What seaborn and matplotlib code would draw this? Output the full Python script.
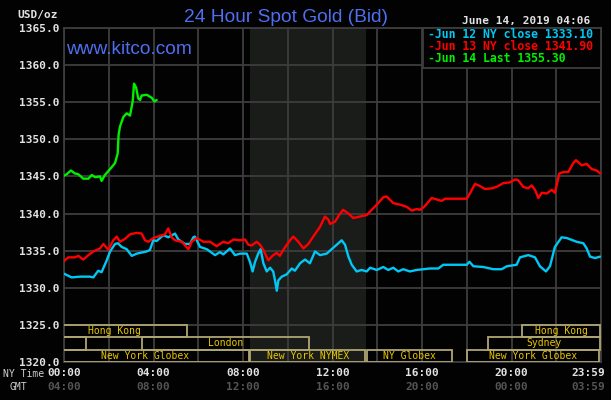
import matplotlib
matplotlib.use("Agg")
import matplotlib.pyplot as plt
import matplotlib.transforms as mtransforms
from matplotlib.patches import Rectangle
import pandas as pd
import seaborn as sns

# ---------------- data ----------------
jun12_hours = [0.00, 0.34, 0.72, 1.16, 1.31, 1.53, 1.68, 1.91, 2.06, 2.28, 2.41, 2.58, 2.80, 3.03, 3.25,
               3.70, 3.84, 3.99, 4.14, 4.44, 4.66, 4.96, 5.11, 5.41, 5.63, 5.78, 5.85, 6.08, 6.38, 6.75,
               6.97, 7.12, 7.42, 7.64, 7.87, 8.17, 8.31, 8.43, 8.54, 8.68, 8.79, 8.91, 9.06, 9.21, 9.35,
               9.43, 9.51, 9.58, 9.73, 9.95, 10.18, 10.32, 10.55, 10.77, 10.99, 11.22, 11.44, 11.74,
               11.96, 12.19, 12.41, 12.56, 12.71, 12.86, 13.08, 13.30, 13.53, 13.68, 13.98, 14.27,
               14.49, 14.72, 14.94, 15.16, 15.46, 15.76, 16.36, 16.73, 16.95, 18.00, 18.12, 18.30,
               18.74, 19.19, 19.56, 19.79, 20.23, 20.38, 20.75, 21.05, 21.27, 21.54, 21.72, 21.94,
               22.24, 22.47, 22.91, 23.21, 23.36, 23.51, 23.73, 23.96]
jun12_price = [1331.9, 1331.4, 1331.5, 1331.5, 1331.4, 1332.3, 1332.1, 1333.7, 1334.9, 1335.9, 1336.0,
               1335.5, 1335.2, 1334.3, 1334.6, 1334.9, 1335.1, 1336.4, 1336.3, 1337.1, 1336.8, 1337.3,
               1336.5, 1335.9, 1335.9, 1336.8, 1336.9, 1335.5, 1335.2, 1334.4, 1334.8, 1334.5, 1335.3,
               1334.4, 1334.6, 1334.6, 1333.5, 1332.2, 1333.5, 1334.6, 1335.2, 1333.3, 1332.2, 1332.7,
               1332.2, 1331.0, 1329.6, 1331.0, 1331.5, 1331.8, 1332.6, 1332.3, 1333.3, 1333.8, 1333.3,
               1334.9, 1334.4, 1334.6, 1335.2, 1335.8, 1336.4, 1335.8, 1334.2, 1333.1, 1332.2, 1332.4,
               1332.2, 1332.7, 1332.4, 1332.8, 1332.4, 1332.7, 1332.2, 1332.5, 1332.2, 1332.4, 1332.6,
               1332.6, 1333.1, 1333.1, 1333.5, 1332.9, 1332.8, 1332.5, 1332.5, 1332.9, 1333.1, 1334.1,
               1334.4, 1334.1, 1332.9, 1332.2, 1332.9, 1335.5, 1336.8, 1336.7, 1336.2, 1336.0, 1335.3,
               1334.2, 1334.0, 1334.2]

jun13_hours = [0.00, 0.19, 0.49, 0.64, 0.86, 1.09, 1.31, 1.61, 1.76, 1.98, 2.20, 2.36, 2.50, 2.73, 2.95,
               3.25, 3.47, 3.62, 3.77, 3.99, 4.29, 4.51, 4.66, 4.81, 4.96, 5.26, 5.56, 5.71, 5.93, 6.23,
               6.53, 6.82, 7.12, 7.34, 7.57, 7.87, 8.09, 8.24, 8.39, 8.61, 8.76, 8.91, 9.13, 9.35, 9.51,
               9.65, 9.80, 10.10, 10.25, 10.47, 10.70, 10.92, 11.14, 11.44, 11.66, 11.81, 11.89, 12.11,
               12.34, 12.48, 12.71, 12.93, 13.23, 13.53, 13.75, 13.98, 14.27, 14.42, 14.72, 15.02,
               15.32, 15.54, 15.76, 15.91, 16.13, 16.43, 16.88, 17.03, 18.00, 18.14, 18.37, 18.59,
               18.82, 19.12, 19.34, 19.63, 19.93, 20.16, 20.30, 20.52, 20.75, 20.90, 21.05, 21.20,
               21.35, 21.57, 21.80, 21.94, 22.14, 22.32, 22.54, 22.76, 22.88, 23.14, 23.36, 23.58,
               23.81, 23.96]
jun13_price = [1333.6, 1334.1, 1334.1, 1334.3, 1333.8, 1334.4, 1334.9, 1335.3, 1335.9, 1335.1, 1336.4,
               1336.9, 1336.2, 1336.6, 1337.2, 1337.4, 1337.3, 1336.4, 1336.2, 1336.7, 1337.0, 1337.2,
               1338.0, 1336.8, 1336.4, 1336.2, 1335.2, 1336.2, 1336.7, 1336.2, 1336.2, 1335.6, 1336.2,
               1336.0, 1336.5, 1336.4, 1336.5, 1335.8, 1335.7, 1336.2, 1335.8, 1335.1, 1333.7, 1334.4,
               1334.7, 1334.3, 1335.1, 1336.4, 1336.9, 1336.2, 1335.3, 1335.9, 1336.9, 1338.2, 1339.6,
               1339.2, 1338.6, 1338.9, 1340.0, 1340.5, 1340.0, 1339.4, 1339.6, 1339.8, 1340.5, 1341.2,
               1342.2, 1342.3, 1341.4, 1341.2, 1340.9, 1340.4, 1340.6, 1340.5, 1341.0, 1342.1, 1341.7,
               1342.0, 1342.0, 1342.7, 1344.0, 1343.7, 1343.3, 1343.4, 1343.6, 1344.1, 1344.2, 1344.6,
               1344.5, 1343.6, 1343.4, 1343.8, 1343.2, 1342.1, 1342.8, 1342.7, 1343.2, 1342.8, 1345.4,
               1345.6, 1345.6, 1346.8, 1347.2, 1346.5, 1346.7, 1346.0, 1345.8, 1345.4]

jun14_hours = [0.00, 0.12, 0.31, 0.49, 0.64, 0.86, 1.09, 1.24, 1.39, 1.61, 1.68, 1.83, 2.06, 2.28, 2.40,
               2.44, 2.50, 2.65, 2.80, 2.95, 3.07, 3.13, 3.22, 3.32, 3.40, 3.47, 3.70, 3.92, 4.04, 4.14]
jun14_price = [1345.1, 1345.3, 1345.8, 1345.4, 1345.3, 1344.7, 1344.7, 1345.2, 1344.9, 1345.0, 1344.4,
               1345.2, 1346.0, 1346.8, 1348.1, 1350.6, 1351.7, 1353.0, 1353.5, 1353.2, 1355.1, 1357.5,
               1357.0, 1355.5, 1355.3, 1355.9, 1356.0, 1355.6, 1355.1, 1355.3]

series_names = ["Jun 12", "Jun 13", "Jun 14"]
legend_labels = ["Jun 12 NY close", "Jun 13 NY close", "Jun 14 Last"]
legend_values = [1333.10, 1341.90, 1355.30]

y_ticks = [1320, 1325, 1330, 1335, 1340, 1345, 1350, 1355, 1360, 1365]
grid_hours = [0, 2, 4, 6, 8, 10, 12, 14, 16, 18, 20, 22, 24]
label_hours = [0, 4, 8, 12, 16, 20, 24]
ny_time_labels = ["00:00", "04:00", "08:00", "12:00", "16:00", "20:00", "23:59"]
gmt_labels = ["04:00", "08:00", "12:00", "16:00", "20:00", "00:00", "03:59"]

nymex_start, nymex_end = 8.333, 13.5

# trading sessions: (label, row, start hour, end hour)
session_labels = ["Hong Kong", "Hong Kong", "", "London", "Sydney",
                  "New York Globex", "New York NYMEX", "NY Globex", "New York Globex"]
session_rows = [0, 0, 1, 1, 1, 2, 2, 2, 2]
session_start = [-1.0, 20.47, -5.0, 3.5, 18.97, -1.0, 8.33, 13.54, 18.02]
session_end = [5.5, 23.95, 1.0, 10.95, 23.95, 8.27, 13.45, 17.34, 23.92]

title = "24 Hour Spot Gold (Bid)"
site = "www.kitco.com"
stamp = "June 14, 2019 04:06"
unit = "USD/oz"

# ---------------- style ----------------
sns.set_style("dark")
plt.rcParams["font.family"] = ["DejaVu Sans Mono", "DejaVu Sans"]
BG = "#020202"
GRID = "#3d3d3d"
SHADE = "#1a1c1a"
BOX = "#b0a672"
BOXTXT = "#e8c600"
TICK = "#e2e2e2"
palette = {"Jun 12": "#00c8f5", "Jun 13": "#ff0000", "Jun 14": "#00f000"}

frames = []
for name, hrs, prc in zip(series_names, [jun12_hours, jun13_hours, jun14_hours],
                          [jun12_price, jun13_price, jun14_price]):
    frames.append(pd.DataFrame({"hour": hrs, "price": prc, "series": name}))
df = pd.concat(frames, ignore_index=True)

fig = plt.figure(figsize=(6.11, 4.0), dpi=100, facecolor=BG)
ax = fig.add_axes([64 / 611, 1 - 362 / 400, 537 / 611, 334 / 400])
ax.set_facecolor(BG)

ax.axvspan(nymex_start, nymex_end, color=SHADE, zorder=0, lw=0)

sns.lineplot(data=df, x="hour", y="price", hue="series", palette=palette,
             estimator=None, sort=False, legend=False, lw=1.7, ax=ax, zorder=3)

ax.set_xlim(0, 24)
ax.set_ylim(1320, 1365)
ax.set_xlabel("")
ax.set_ylabel("")

ax.set_yticks(y_ticks)
ax.set_yticklabels([f"{v:.1f}" for v in y_ticks])
ax.set_xticks(grid_hours)
xt = ["" for _ in grid_hours]
for h, lab in zip(label_hours, ny_time_labels):
    xt[grid_hours.index(h)] = lab
ax.set_xticklabels(xt)
ax.tick_params(axis="both", length=0, colors=TICK, labelsize=8)
ax.tick_params(axis="y", pad=3.5)
ax.tick_params(axis="x", pad=4.5)
for lab in ax.get_xticklabels() + ax.get_yticklabels():
    lab.set_fontweight("bold")
last = ax.get_xticklabels()[-1]
last.set_ha("right")
last.set_transform(last.get_transform() + mtransforms.ScaledTranslation(4 / 100, 0, fig.dpi_scale_trans))

ax.grid(True, color=GRID, lw=1.3, zorder=1)
ax.set_axisbelow(True)
for sp in ax.spines.values():
    sp.set_color(GRID)
    sp.set_linewidth(1.3)

# GMT labels
blend = mtransforms.blended_transform_factory(ax.transData, ax.transAxes)
for i, (h, lab) in enumerate(zip(label_hours, gmt_labels)):
    ha = "right" if i == len(label_hours) - 1 else "center"
    off = 4 if ha == "right" else 0
    ax.text(h, -0.075, lab, transform=blend + mtransforms.ScaledTranslation(off / 100, 0, fig.dpi_scale_trans),
            ha=ha, va="center", color="#545454", fontsize=8, fontweight="bold", clip_on=False)
fig.text(3 / 611, 1 - 374 / 400, "NY Time", color="#cfcfcf", fontsize=7, va="center", ha="left")
fig.text(10 / 611, 1 - 387 / 400, "GMT", color="#cfcfcf", fontsize=7, va="center", ha="left")

# sessions
row_h = 5.0 / 3
for lab, row, s, e in zip(session_labels, session_rows, session_start, session_end):
    y0 = 1325 - (row + 1) * row_h
    r = Rectangle((s, y0), e - s, row_h, fill=False, edgecolor=BOX, lw=1.3, zorder=4, clip_on=True)
    ax.add_patch(r)
    if lab:
        ax.text((s + e) / 2, y0 + row_h / 2, lab, ha="center", va="center", color=BOXTXT,
                fontsize=7, zorder=5, clip_on=True)

# titles
fig.text(285.5 / 611, 1 - 17 / 400, title, ha="center", va="center", color="#4e6ff0",
         fontsize=13.8, family="Liberation Sans")
fig.text(66 / 611, 1 - 49 / 400, site, ha="left", va="center", color="#4e6ff0",
         fontsize=13.8, family="Liberation Sans")
fig.text(58 / 611, 1 - 15 / 400, unit, ha="right", va="center", color=TICK, fontsize=8, fontweight="bold")
fig.text(590 / 611, 1 - 21 / 400, stamp, ha="right", va="center", color=TICK, fontsize=8, fontweight="bold")

# legend box
lx0, lx1, ly0, ly1 = 423, 601, 28, 68
fig.patches.append(Rectangle((lx0 / 611, 1 - ly1 / 400), (lx1 - lx0) / 611, (ly1 - ly0) / 400,
                             transform=fig.transFigure, facecolor=BG, edgecolor=GRID, lw=1.3, zorder=10))
for i, (name, lab, val) in enumerate(zip(series_names, legend_labels, legend_values)):
    fig.text(428 / 611, 1 - (35 + 11.8 * i) / 400, f"-{lab} {val:.2f}", ha="left", va="center",
             color=palette[name], fontsize=8.3, fontweight="bold", zorder=11)

fig.savefig("out.png", dpi=100, facecolor=BG)
